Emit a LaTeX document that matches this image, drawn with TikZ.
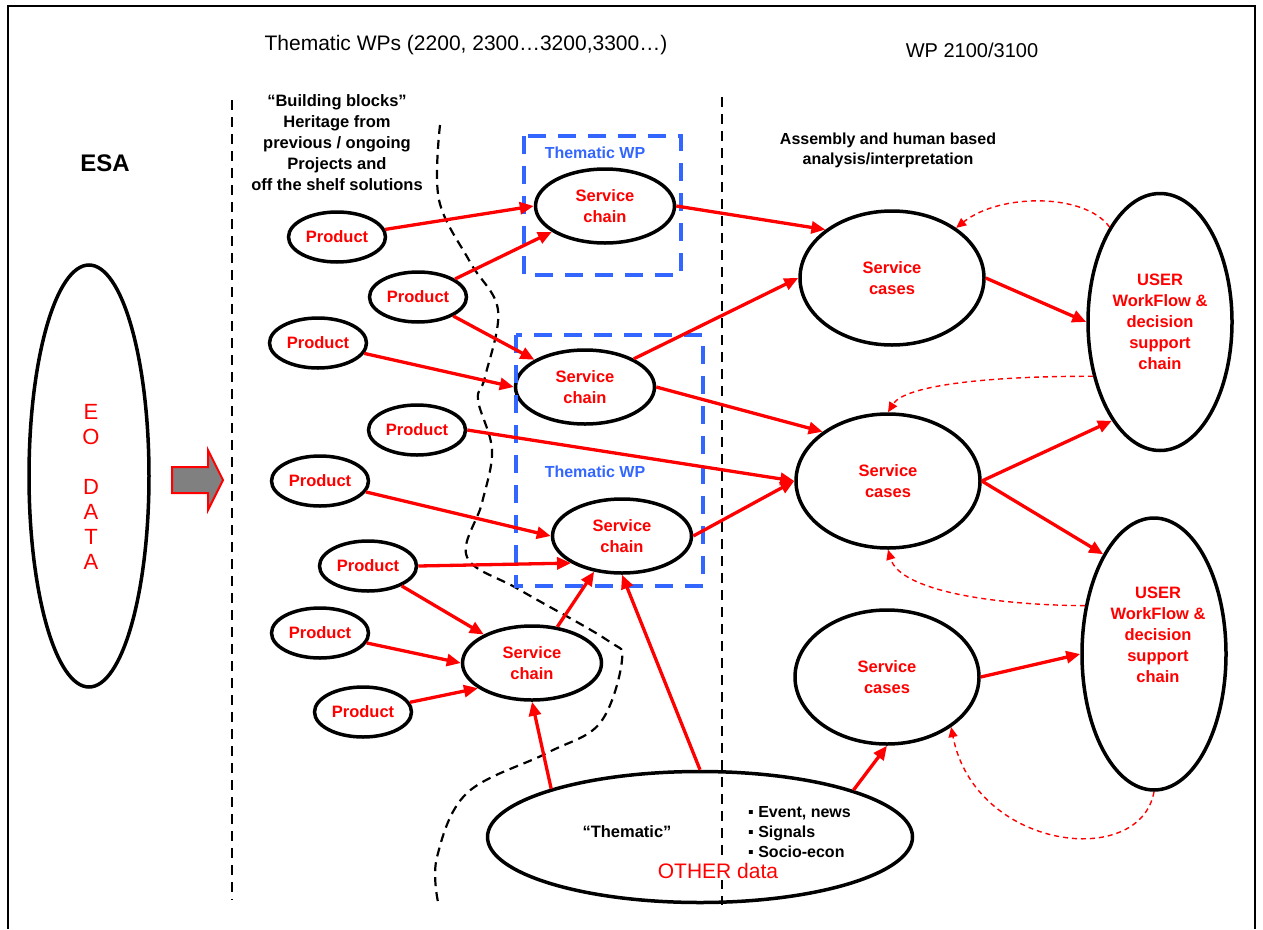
\documentclass[tikz,border=0pt]{standalone}
\usepackage{fontspec}
\setmainfont{Liberation Sans}
\usetikzlibrary{arrows.meta,shapes.geometric}
\definecolor{wpblue}{RGB}{51,102,255}
\newcommand\myfs[2]{\fontsize{#1}{#2}\selectfont}
\begin{document}
\begin{tikzpicture}[x=1pt,y=-1pt,
 every node/.style={inner sep=0pt},
 prod/.style={ellipse,draw,line width=3.5pt,minimum width=97pt,minimum height=50pt,text=red,font=\bfseries\myfs{16.5}{20}},
 chain/.style={ellipse,draw,line width=3.5pt,minimum width=139pt,minimum height=74pt,text=red,align=center,font=\bfseries\myfs{16.5}{21}},
 cases/.style={ellipse,draw,line width=3.5pt,minimum width=184pt,minimum height=134pt,text=red,align=center,font=\bfseries\myfs{16.5}{21}},
 user/.style={ellipse,draw,line width=3.5pt,minimum width=144pt,text=red,align=center,font=\bfseries\myfs{16.5}{21}},
 redtxt/.style={text=red,align=center,font=\bfseries\myfs{16.5}{21}},
 arr/.style={red,line width=3.3pt,-{Triangle[length=14pt,width=12pt]}},
 fb/.style={red,line width=1.4pt,dash pattern=on 5pt off 4pt,-{Triangle[length=10pt,width=9pt]}},
 vdash/.style={black,line width=2.3pt,dash pattern=on 10pt off 7pt},
 wpbox/.style={wpblue,line width=4.5pt,dash pattern=on 18pt off 12pt},
 wplabel/.style={text=wpblue,font=\bfseries\myfs{16}{19}},
]
\useasboundingbox (0,0) rectangle (1263,929);
% frame
\draw[line width=1.5pt] (8,929) -- (8,6) -- (1255,6) -- (1255,929);

% headings
\node (title) at (466,45) {\myfs{21}{24}Thematic WPs (2200, 2300…3200,3300…)};
\node (wp) at (972,50) {\myfs{20}{24}WP 2100/3100};
\node (esa) at (105,163) {\bfseries\myfs{24}{28}ESA};
\node (bb) at (337,143) [align=center,font=\bfseries\myfs{16.5}{21}]
  {“Building blocks”\\Heritage from\\previous / ongoing\\Projects and\\off the shelf solutions};
\node (asm) at (888,150) [align=center,font=\bfseries\myfs{16}{20}]
  {Assembly and human based\\analysis/interpretation};

% separators
\draw[vdash] (232,100) -- (232,900);
\draw[black,line width=2.2pt,dash pattern=on 9pt off 6pt] plot[smooth,tension=0.6] coordinates {
 (440,125) (439,200) (470,262) (498,310) (485,377) (478,400) (492,450) (482,503)
 (467,557) (520,590) (607,640) (622,660) (600,723) (547,753) (467,793) (437,857) (438,902)};

% EO data
\node[ellipse,draw,line width=3.5pt,minimum width=120pt,minimum height=422pt] (EO) at (89,476) {};
\node[text=red,align=center,font=\myfs{22}{25}] (eotxt) at (91,487) {E\\O\\\mbox{}\\D\\A\\T\\A};
\draw[red,line width=2pt,fill=gray] (172,467) -- (208,467) -- (208,450) -- (223,480) -- (208,510) -- (208,493) -- (172,493) -- cycle;

% products
\node[prod] (P1) at (337,237) {Product};
\node[prod] (P2) at (418,297) {Product};
\node[prod] (P3) at (318,343) {Product};
\node[prod] (P4) at (417,430) {Product};
\node[prod] (P5) at (320,481) {Product};
\node[prod] (P6) at (368,566) {Product};
\node[prod] (P7) at (320,633) {Product};
\node[prod] (P8) at (363,712) {Product};

% service chains
\node[chain] (A) at (605,206) {Service\\chain};
\node[chain] (B) at (585,387) {Service\\chain};
\node[chain] (C) at (622,536) {Service\\chain};
\node[chain] (D) at (532,663) {Service\\chain};

% thematic WP boxes
\draw[wpbox] (524,136) rectangle (681,275);
\draw[wpbox] (516,335) rectangle (703,586);
\node[wplabel] (wp1) at (595,153) {Thematic WP};
\node[wplabel] (wp2) at (595,472) {Thematic WP};

% service cases
\node[cases] (S1) at (892,278) {Service\\cases};
\node[cases] (S2) at (888,481) {Service\\cases};
\node[cases] (S3) at (887,677) {Service\\cases};

% users
\node[user,minimum height=257pt] (U1) at (1160,322) {USER\\WorkFlow \&\\decision\\support\\chain};
\node[user,minimum height=272pt] (U2) at (1154,654) {};
\node[redtxt] (u2txt) at (1158,635) {USER\\WorkFlow \&\\decision\\support\\chain};

% other data
\node[ellipse,draw,fill=white,line width=3.5pt,minimum width=425pt,minimum height=131pt] (T) at (700,837) {};
\draw[vdash] (722,97) -- (722,905);
\node[font=\bfseries\myfs{16.5}{20}] (them) at (627,832) {“Thematic”};
\node[anchor=west,align=left,font=\bfseries\myfs{16}{20}] (bul) at (748,832)
  {▪ Event, news\\▪ Signals\\▪ Socio-econ};
\node[text=red,fill=white,inner sep=1pt,font=\myfs{21}{24}] (oth) at (718,871) {OTHER data};

% arrows
\draw[arr] (P1) -- (A.west);
\draw[arr] (P2) -- (A);
\draw[arr] (P2) -- (B);
\draw[arr] (P3) -- (B.west);
\draw[arr] (P4.east) -- (S2.west);
\draw[arr] (P5) -- (C.west);
\draw[arr] (P6.east) -- (C.208);
\draw[arr] (P6) -- (D);
\draw[arr] (P7) -- (D.west);
\draw[arr] (P8) -- (D.205);
\draw[arr] (D.55) -- (C.232);
\draw[arr] (T.162) -- (D.south);
\draw[arr] (T.north) -- (C.south);
\draw[arr] (T.17) -- (S3.south);
\draw[arr] (A.east) -- (S1.144);
\draw[arr] (B.30) -- (S1.west);
\draw[arr] (B.east) -- (S2.143);
\draw[arr] (C.east) -- (S2.west);
\draw[arr] (S1.east) -- (U1.west);
\draw[arr] (S2.east) -- (U1.244);
\draw[arr] (S2.east) -- (U2.117);
\draw[arr] (S3.east) -- (U2.west);

% feedback
\draw[fb] (U1.118) .. controls (1085,193) and (1000,193) .. (S1.38);
\draw[fb] (U1.219) .. controls (990,376) and (905,385) .. (S2.north);
\draw[fb] (U2.145) .. controls (990,605) and (900,590) .. (S2.south);
\draw[fb] (U2.south) .. controls (1140,870) and (975,850) .. (S3.322);
\end{tikzpicture}
\end{document}
